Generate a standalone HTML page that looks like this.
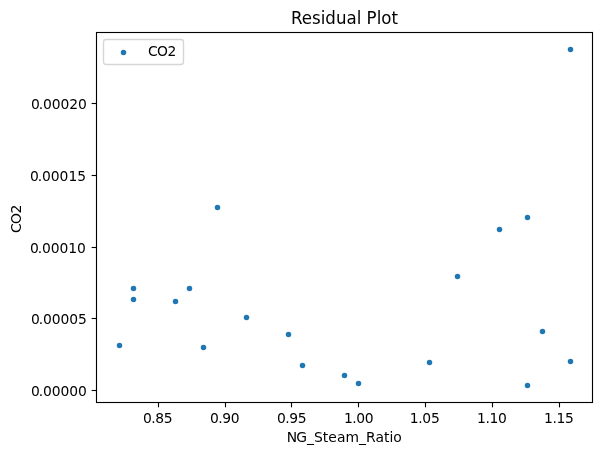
<!DOCTYPE html>
<html lang="en"><head><meta charset="utf-8"><title>Residual Plot</title>
<style>
html,body{margin:0;padding:0;background:#fff;}
body{width:602px;height:455px;overflow:hidden;}
svg{display:block;}
text{font-family:"DejaVu Sans","Liberation Sans",sans-serif;fill:#000;}
.t10{font-size:13.889px;}
.t12{font-size:16.667px;}
.ln{stroke:#000;stroke-width:1.111;fill:none;}
.dot{fill:#1f77b4;}
</style></head><body>
<svg width="602" height="455" viewBox="0 0 602 455">
<rect x="0" y="0" width="602" height="455" fill="#fff"/>
<!-- scatter points -->
<circle class="dot" cx="119.5" cy="345.5" r="2.735"/>
<circle class="dot" cx="133.5" cy="288.5" r="2.735"/>
<circle class="dot" cx="133.5" cy="299.5" r="2.735"/>
<circle class="dot" cx="175.5" cy="301.5" r="2.735"/>
<circle class="dot" cx="189.5" cy="288.5" r="2.735"/>
<circle class="dot" cx="203.5" cy="347.5" r="2.735"/>
<circle class="dot" cx="217.5" cy="207.5" r="2.735"/>
<circle class="dot" cx="246.5" cy="317.5" r="2.735"/>
<circle class="dot" cx="288.5" cy="334.5" r="2.735"/>
<circle class="dot" cx="302.5" cy="365.5" r="2.735"/>
<circle class="dot" cx="344.5" cy="375.5" r="2.735"/>
<circle class="dot" cx="358.5" cy="383.5" r="2.735"/>
<circle class="dot" cx="429.5" cy="362.5" r="2.735"/>
<circle class="dot" cx="457.5" cy="276.5" r="2.735"/>
<circle class="dot" cx="499.5" cy="229.5" r="2.735"/>
<circle class="dot" cx="527.5" cy="217.5" r="2.735"/>
<circle class="dot" cx="527.5" cy="385.5" r="2.735"/>
<circle class="dot" cx="542.5" cy="331.5" r="2.735"/>
<circle class="dot" cx="570.5" cy="361.5" r="2.735"/>
<circle class="dot" cx="570.5" cy="49.5" r="2.735"/>
<!-- x axis -->
<path class="ln" d="M158.5 402.5V407.36"/>
<path class="ln" d="M225.5 402.5V407.36"/>
<path class="ln" d="M291.5 402.5V407.36"/>
<path class="ln" d="M358.5 402.5V407.36"/>
<path class="ln" d="M425.5 402.5V407.36"/>
<path class="ln" d="M492.5 402.5V407.36"/>
<path class="ln" d="M559.5 402.5V407.36"/>
<!-- y axis -->
<path class="ln" d="M96.5 390.5H91.64"/>
<path class="ln" d="M96.5 318.5H91.64"/>
<path class="ln" d="M96.5 247.5H91.64"/>
<path class="ln" d="M96.5 175.5H91.64"/>
<path class="ln" d="M96.5 103.5H91.64"/>
<rect class="ln" x="96.5" y="32.5" width="496" height="370"/>
<rect x="103.50" y="39.50" width="80.00" height="25.00" rx="2.78" fill="#fff" fill-opacity="0.8" stroke="#ccc" stroke-opacity="0.8" stroke-width="1.389"/>
<circle class="dot" cx="123.5" cy="52.5" r="2.735"/>
<text class="t10" text-anchor="middle" x="157.57" y="422.92" letter-spacing="-0.4">0.85</text>
<text class="t10" text-anchor="middle" x="224.53" y="422.88" letter-spacing="-0.4">0.90</text>
<text class="t10" text-anchor="middle" x="291.54" y="422.89" letter-spacing="-0.4">0.95</text>
<text class="t10" text-anchor="middle" x="358.54" y="422.87" letter-spacing="-0.4">1.00</text>
<text class="t10" text-anchor="middle" x="424.59" y="422.88" letter-spacing="-0.3">1.05</text>
<text class="t10" text-anchor="middle" x="491.68" y="422.76" letter-spacing="-0.4">1.10</text>
<text class="t10" text-anchor="middle" x="558.67" y="422.78" letter-spacing="-0.4">1.15</text>
<text class="t10" text-anchor="start" x="30.95 38.67" y="395.54" letter-spacing="-0.1">0.00000</text>
<text class="t10" text-anchor="start" x="30.97 38.69" y="323.83" letter-spacing="-0.1">0.00005</text>
<text class="t10" text-anchor="start" x="29.94 37.66" y="252.57" letter-spacing="-0.1">0.00010</text>
<text class="t10" text-anchor="start" x="29.93 37.69" y="180.86" letter-spacing="-0.05">0.00015</text>
<text class="t10" text-anchor="start" x="30.98 38.70" y="108.95" letter-spacing="-0.1">0.00020</text>
<text class="t10" text-anchor="start" x="286.77 296.19" y="441.91" letter-spacing="0.05">NG_Steam_Ratio</text>
<text class="t10" text-anchor="middle" x="20.64" y="219.11" letter-spacing="-0.5" transform="rotate(-90 20.64 219.11)">CO2</text>
<text text-anchor="middle" font-size="17.4" transform="translate(344.50 23.50) scale(0.9579 1)">Residual Plot</text>
<text class="t10" text-anchor="start" x="147.98" y="55.59" letter-spacing="-0.55">CO2</text>
</svg></body></html>
